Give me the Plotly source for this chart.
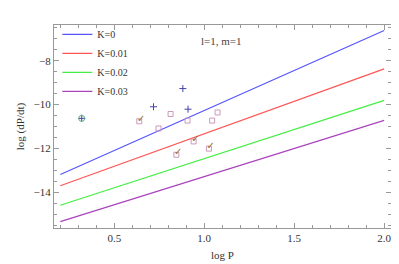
import plotly.graph_objects as go

# model lines (log P vs log dP/dt)
line_x = [0.2, 2.0]
k0_y = [-13.19, -6.62]
k001_y = [-13.70, -8.37]
k002_y = [-14.59, -9.81]
k003_y = [-15.34, -10.72]

# observed points
plus_x = [0.718, 0.881, 0.910]
plus_y = [-10.10, -9.27, -10.21]
circ_x = [0.319]
circ_y = [-10.63]
sq_x = [0.746, 0.813, 0.907, 1.044, 1.074]
sq_y = [-11.09, -10.43, -10.73, -10.73, -10.36]
chk_x = [0.639, 0.845, 0.941, 1.026]
chk_y = [-10.76, -12.29, -11.68, -12.01]

fig = go.Figure()
for name, ys, col in [("K=0", k0_y, "#5555ff"), ("K=0.01", k001_y, "#ff5555"),
                      ("K=0.02", k002_y, "#44ee44"), ("K=0.03", k003_y, "#aa44bb")]:
    fig.add_trace(go.Scatter(x=line_x, y=ys, mode="lines", name=name,
                             line=dict(color=col, width=1.2)))

fig.add_trace(go.Scatter(x=plus_x + circ_x, y=plus_y + circ_y, mode="markers", showlegend=False,
                         marker=dict(symbol="cross-thin-open", size=5, color="#4444aa",
                                     line=dict(width=1, color="#4444aa"))))
fig.add_trace(go.Scatter(x=circ_x, y=circ_y, mode="markers", showlegend=False,
                         marker=dict(symbol="circle-open", size=6, color="#66aa88",
                                     line=dict(width=1, color="#66aa88"))))
fig.add_trace(go.Scatter(x=sq_x + chk_x, y=sq_y + chk_y, mode="markers", showlegend=False,
                         marker=dict(symbol="square-open", size=5, color="#cc99bb",
                                     line=dict(width=1, color="#cc99bb"))))
fig.add_trace(go.Scatter(x=[v + 0.01 for v in chk_x], y=[v + 0.1 for v in chk_y], mode="text",
                         text=["✓"] * len(chk_x),
                         showlegend=False, textposition="middle center",
                         textfont=dict(family="DejaVu Sans", size=10, color="#9a7030")))

fig.add_annotation(x=0.43, y=0.92, xref="x domain", yref="y domain", text="l=1, m=1",
                   showarrow=False, xanchor="left", yanchor="middle",
                   font=dict(family="Liberation Serif", size=11, color="#444"))

axis_common = dict(showgrid=False, zeroline=False, showline=True, linecolor="#999",
                   linewidth=1, mirror="ticks", ticks="inside", ticklen=5, tickcolor="#999",
                   tickfont=dict(family="Liberation Serif", size=11, color="#333"))
fig.update_xaxes(range=[0.165, 2.038], tickvals=[0.5, 1.0, 1.5, 2.0], ticktext=["0.5", "1.0", "1.5", "2.0"],
                 minor=dict(dtick=0.1, tick0=0, ticks="inside", ticklen=3, tickcolor="#999"),
                 title=dict(text="log P", font=dict(family="Liberation Serif", size=11, color="#333"),
                            standoff=8),
                 **axis_common)
fig.update_yaxes(range=[-15.63, -6.37], tickvals=[-14, -12, -10, -8], ticktext=["−14", "−12", "−10", "−8"],
                 minor=dict(dtick=0.5, tick0=0, ticks="inside", ticklen=3, tickcolor="#999"),
                 title=dict(text="log (dP/dt)", font=dict(family="Liberation Serif", size=11, color="#333"),
                            standoff=6),
                 **axis_common)

fig.update_layout(width=399, height=264, margin=dict(l=42, r=16, t=17, b=37),
                  plot_bgcolor="white", paper_bgcolor="white",
                  legend=dict(x=0.01, y=1.025, xanchor="left", yanchor="top", bgcolor="rgba(0,0,0,0)",
                              font=dict(family="Liberation Serif", size=10, color="#333"),
                              tracegroupgap=0, itemwidth=30))

fig.write_html("out.html")
